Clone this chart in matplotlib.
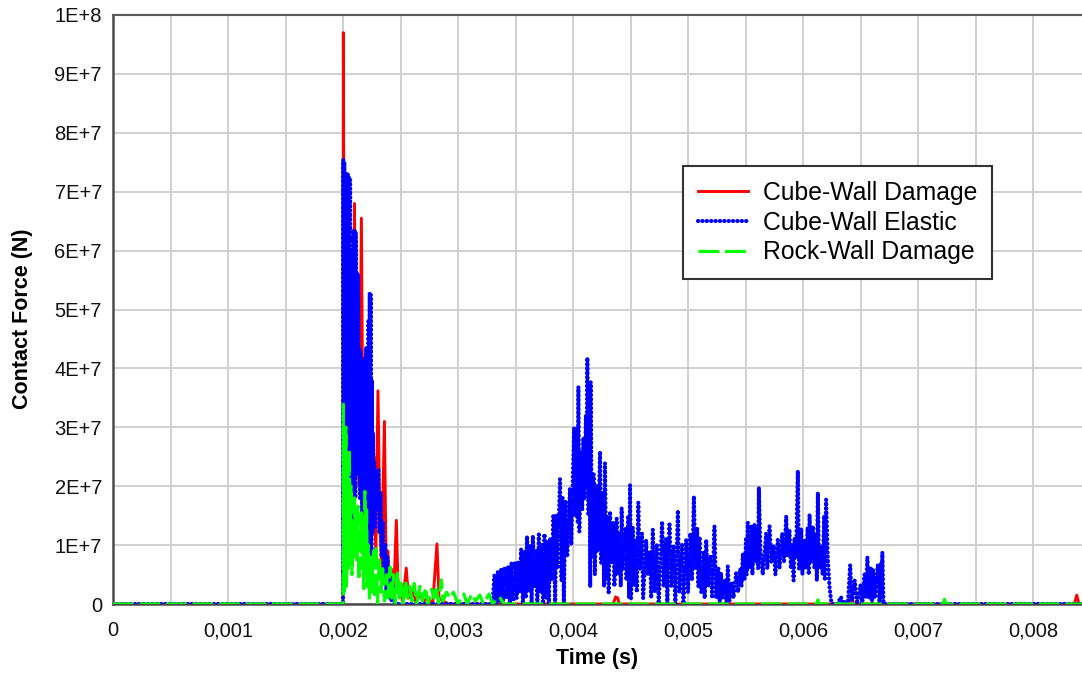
import numpy as np
import matplotlib
matplotlib.use("Agg")
import matplotlib.pyplot as plt
from matplotlib.ticker import MultipleLocator

plt.rcParams['font.family'] = ['Liberation Sans', 'DejaVu Sans']

# tempo em ms, forca em unidades de 1E+7 N
red_ms = [0, 2.0, 2.003, 2.012, 2.02, 2.03, 2.04, 2.05, 2.06, 2.07, 2.08, 2.09, 2.10, 2.115,
          2.13, 2.14, 2.16, 2.175, 2.19, 2.20, 2.215, 2.23, 2.25, 2.27, 2.285, 2.304, 2.32,
          2.335, 2.36, 2.375, 2.39, 2.405, 2.42, 2.44, 2.464, 2.48, 2.50, 2.52, 2.55, 2.57,
          2.60, 2.63, 2.66, 2.70, 2.74, 2.78, 2.817, 2.835, 2.87, 2.92, 3.78, 3.79, 3.80,
          4.35, 4.37, 4.39, 4.40, 6.40, 6.42, 6.44, 8.36, 8.38, 8.40, 8.43]
red_f = [0, 0, 9.7, 3.0, 5.5, 2.0, 5.8, 1.5, 4.5, 2.5, 5.0, 1.8, 6.8, 2.5,
         4.5, 2.0, 6.55, 2.1, 2.2, 3.0, 1.0, 2.8, 1.2, 2.5, 0.8, 3.62, 1.5,
         0.5, 3.1, 0.6, 0.9, 0.2, 0.6, 0.1, 1.42, 0.2, 0.3, 0.05, 0.61, 0.1,
         0.25, 0.05, 0.15, 0.05, 0.1, 0.0, 1.02, 0.1, 0.05, 0.0, 0.0, 0.08, 0,
         0, 0.12, 0.1, 0, 0, 0.15, 0, 0, 0.15, 0, 0]

blue_ms = [0, 2.0, 2.002, 2.007, 2.012, 2.017, 2.022, 2.027, 2.032, 2.037, 2.042, 2.047,
           2.052, 2.057, 2.062, 2.067, 2.072, 2.077, 2.082, 2.087, 2.092, 2.097, 2.102,
           2.107, 2.112, 2.117, 2.122, 2.127, 2.132, 2.137, 2.142, 2.147, 2.152, 2.157,
           2.162, 2.167, 2.172, 2.177, 2.182, 2.187, 2.192, 2.197, 2.202, 2.207, 2.212,
           2.217, 2.222, 2.227, 2.232, 2.237, 2.242, 2.247, 2.252, 2.257, 2.262, 2.267,
           2.272, 2.277, 2.287, 2.297, 2.307, 2.317, 2.327, 2.337, 2.347, 2.357, 2.367,
           2.377, 2.387, 2.397, 2.41, 2.42, 2.44, 2.45,
           3.30, 3.317, 3.33, 3.346, 3.36, 3.375, 3.39, 3.404, 3.42, 3.435, 3.45, 3.465,
           3.48, 3.495, 3.51, 3.525, 3.535, 3.549, 3.565, 3.58, 3.59, 3.60, 3.615, 3.63,
           3.64, 3.651, 3.665, 3.68, 3.69, 3.703, 3.715, 3.73, 3.74, 3.752, 3.765, 3.78,
           3.79, 3.80, 3.815, 3.83, 3.845, 3.855, 3.865, 3.887, 3.90, 3.91, 3.92, 3.935,
           3.95, 3.974, 3.985, 4.009, 4.02, 4.035, 4.04, 4.047, 4.055, 4.07, 4.08, 4.09,
           4.10, 4.112, 4.118, 4.125, 4.135, 4.145, 4.15, 4.154, 4.165, 4.18, 4.19, 4.205,
           4.215, 4.235, 4.245, 4.26, 4.27, 4.278, 4.29, 4.30, 4.31, 4.322, 4.335, 4.35,
           4.36, 4.38, 4.39, 4.41, 4.415, 4.423, 4.435, 4.455, 4.465, 4.48, 4.488, 4.496,
           4.505, 4.52, 4.53, 4.545, 4.555, 4.568, 4.58, 4.60, 4.61, 4.636, 4.65, 4.67,
           4.68, 4.694, 4.71, 4.73, 4.745, 4.775, 4.79, 4.81, 4.82, 4.839, 4.855, 4.875,
           4.89, 4.912, 4.925, 4.95, 4.96, 4.984, 5.00, 5.02, 5.035, 5.051, 5.065, 5.08,
           5.09, 5.10, 5.115, 5.135, 5.145, 5.158, 5.175, 5.195, 5.21, 5.23, 5.245, 5.265,
           5.275, 5.287, 5.30, 5.32, 5.335, 5.346, 5.36, 5.38, 5.395, 5.419, 5.435, 5.455,
           5.465, 5.477, 5.49, 5.505, 5.51, 5.52, 5.535, 5.55, 5.56, 5.578, 5.59, 5.605,
           5.61, 5.616, 5.63, 5.65, 5.68, 5.69, 5.709, 5.725, 5.745, 5.76, 5.781, 5.795,
           5.82, 5.835, 5.854, 5.865, 5.882, 5.895, 5.91, 5.918, 5.926, 5.94, 5.955, 5.965,
           5.984, 5.995, 6.013, 6.025, 6.04, 6.05, 6.057, 6.07, 6.086, 6.10, 6.115, 6.12,
           6.129, 6.14, 6.158, 6.17, 6.185, 6.19, 6.201, 6.215, 6.23, 6.245, 6.26, 6.30,
           6.33, 6.35, 6.37, 6.39, 6.41, 6.425, 6.45, 6.47, 6.50, 6.515, 6.535, 6.545,
           6.56, 6.575, 6.59, 6.60, 6.61, 6.625, 6.65, 6.665, 6.68, 6.685, 6.69, 6.70, 8.43]
blue_f = [0, 0, 7.55, 0.3, 7.5, 1.0, 7.3, 0.5, 7.3, 2.0, 7.3, 0.8,
          7.25, 3.0, 7.2, 1.5, 5.96, 2.5, 5.9, 1.2, 6.35, 2.8, 6.35,
          1.8, 6.3, 3.0, 5.62, 2.2, 5.6, 3.5, 4.36, 1.8, 4.3, 2.6,
          4.14, 1.5, 4.1, 2.2, 4.09, 1.6, 4.2, 2.0, 4.36, 1.2, 4.3,
          0.8, 4.8, 0.5, 5.28, 0.3, 5.25, 0.5, 3.8, 1.2, 2.9, 1.8,
          2.4, 1.3, 2.2, 1.6, 2.3, 1.2, 1.9, 0.8, 1.4, 0.4, 1.03,
          0.2, 0.8, 0.1, 0.5, 0.05, 0.3, 0.0,
          0.0, 0.49, 0.0, 0.55, 0.05, 0.58, 0.0, 0.60, 0.1, 0.63, 0.0, 0.70,
          0.05, 0.72, 0.1, 0.72, 0.2, 0.93, 0.0, 0.9, 0.1, 1.15, 0.2, 1.0,
          0.0, 1.16, 0.3, 0.9, 0.0, 1.18, 0.2, 1.0, 0.0, 1.19, 0.1, 1.05,
          0.0, 1.1, 0.4, 1.52, 0.0, 1.51, 0.6, 2.12, 0.4, 1.8, 0.0, 1.75,
          0.8, 1.97, 1.0, 2.99, 1.5, 3.0, 1.4, 3.69, 1.23, 2.6, 1.6, 2.82,
          1.8, 3.2, 2.0, 4.18, 1.5, 3.6, 0.29, 3.77, 0.8, 2.2, 0.5, 2.0,
          0.9, 2.59, 0.7, 1.9, 0.3, 2.39, 0.4, 1.5, 0.2, 1.57, 0.7, 1.4,
          0.3, 1.45, 0.5, 1.2, 0.3, 1.63, 0.6, 1.3, 0.4, 1.5, 0.1, 2.02,
          0.1, 1.3, 0.3, 1.1, 0.2, 1.72, 0.6, 1.2, 0.1, 1.09, 0.5, 0.9,
          0.1, 1.26, 0.2, 1.0, 0.0, 1.40, 0.3, 1.1, 0.0, 1.35, 0.3, 1.0,
          0.0, 1.59, 0.2, 1.0, 0.0, 1.09, 0.2, 1.2, 0.4, 1.83, 0.6, 1.3,
          0.3, 1.14, 0.2, 0.9, 0.1, 1.09, 0.3, 0.8, 0.1, 1.32, 0.1, 0.6,
          0.0, 0.52, 0.1, 0.4, 0.0, 0.64, 0.05, 0.35, 0.1, 0.52, 0.2, 0.6,
          0.3, 0.86, 0.4, 1.1, 0.5, 1.38, 0.6, 1.34, 0.5, 1.34, 0.7, 1.3,
          0.6, 1.98, 0.9, 0.5, 1.2, 0.6, 1.32, 0.7, 1.0, 0.5, 1.09, 0.6,
          1.2, 0.7, 1.49, 0.8, 1.26, 0.6, 1.0, 0.4, 1.12, 0.8, 2.26, 0.6,
          1.28, 0.5, 1.09, 0.6, 1.3, 0.5, 1.52, 0.7, 1.32, 0.6, 1.2, 0.4,
          1.89, 0.6, 0.98, 0.5, 1.5, 0.4, 1.77, 0.8, 0.3, 0.05, 0.0, 0.0,
          0.12, 0.0, 0.05, 0.0, 0.66, 0.05, 0.4, 0.0, 0.32, 0.0, 0.5, 0.1,
          0.80, 0.1, 0.6, 0.0, 0.58, 0.1, 0.66, 0.0, 0.7, 0.1, 0.88, 0.0, 0.0]

green_ms = [0, 2.0, 2.003, 2.008, 2.013, 2.018, 2.025, 2.03, 2.04, 2.046, 2.055, 2.062,
            2.07, 2.078, 2.085, 2.09, 2.10, 2.108, 2.115, 2.12, 2.13, 2.138, 2.145, 2.152,
            2.16, 2.168, 2.175, 2.18, 2.19, 2.198, 2.205, 2.212, 2.22, 2.23, 2.24, 2.25,
            2.265, 2.275, 2.29, 2.30, 2.315, 2.33, 2.345, 2.36, 2.38, 2.39, 2.41, 2.425,
            2.44, 2.455, 2.475, 2.49, 2.505, 2.52, 2.545, 2.56, 2.58, 2.60, 2.62, 2.64,
            2.67, 2.69, 2.72, 2.74, 2.77, 2.79, 2.81, 2.83, 2.855, 2.87, 2.90, 2.93,
            2.96, 3.0, 3.05, 3.08, 3.12, 3.15, 3.19, 3.22, 3.27, 3.30, 3.36, 3.40,
            6.12, 6.13, 6.14, 7.22, 7.23, 7.24, 8.43]
green_f = [0, 0, 3.39, 0.2, 2.8, 0.5, 3.0, 0.3, 2.2, 0.6, 2.61, 1.0,
           2.0, 0.5, 1.4, 0.8, 1.8, 0.9, 1.54, 0.7, 1.66, 0.4, 1.3, 0.9,
           1.55, 0.6, 1.2, 0.2, 1.91, 0.5, 1.6, 0.3, 1.0, 0.1, 0.8, 0.2,
           0.9, 0.1, 1.0, 0.0, 0.8, 0.2, 0.6, 0.05, 0.5, 0.1, 0.63, 0.1,
           0.5, 0.0, 0.52, 0.1, 0.35, 0.0, 0.4, 0.1, 0.3, 0.05, 0.35, 0.0,
           0.3, 0.05, 0.28, 0.0, 0.25, 0.1, 0.3, 0.0, 0.41, 0.05, 0.2, 0.1,
           0.2, 0.0, 0.17, 0.0, 0.17, 0.05, 0.15, 0.0, 0.17, 0.0, 0.12, 0.0,
           0.0, 0.07, 0.0, 0.0, 0.08, 0.0, 0.0]

x_ticks = [0, 0.001, 0.002, 0.003, 0.004, 0.005, 0.006, 0.007, 0.008]
x_labels = ['0', '0,001', '0,002', '0,003', '0,004', '0,005', '0,006', '0,007', '0,008']
y_ticks = [0, 1e7, 2e7, 3e7, 4e7, 5e7, 6e7, 7e7, 8e7, 9e7, 1e8]
y_labels = ['0', '1E+7', '2E+7', '3E+7', '4E+7', '5E+7', '6E+7', '7E+7', '8E+7', '9E+7', '1E+8']

fig = plt.figure(figsize=(10.82, 6.73), dpi=100)
ax = fig.add_axes([113/1082, 69/673, 969/1082, 589/673])

# curvas
ax.plot(np.array(red_ms)*1e-3, np.array(red_f)*1e7, color='#ff0000', lw=2.1,
        label='Cube-Wall Damage', zorder=3)
ax.plot(np.array(blue_ms)*1e-3, np.array(blue_f)*1e7, color='#0000ff', lw=3.0,
        linestyle=(0, (0.05, 1.0)), dash_capstyle='round',
        label='Cube-Wall Elastic', zorder=4)
ax.plot(np.array(green_ms)*1e-3, np.array(green_f)*1e7, color='#00ff00', lw=2.3,
        linestyle=(0, (6.5, 1.8)), label='Rock-Wall Damage', zorder=5)

ax.set_xlim(0, 969/115*1e-3)
ax.set_ylim(0, 1e8)
ax.set_xticks(x_ticks)
ax.set_xticklabels(x_labels)
ax.set_yticks(y_ticks)
ax.set_yticklabels(y_labels)
ax.xaxis.set_minor_locator(MultipleLocator(0.0005))

ax.grid(which='major', color='#d0d0d0', lw=1.4, zorder=0)
ax.grid(which='minor', axis='x', color='#d0d0d0', lw=1.4, zorder=0)
ax.set_axisbelow(True)

ax.tick_params(which='both', length=0, labelsize=14.5, colors='#111111')
ax.tick_params(axis='x', pad=12.5)
ax.tick_params(axis='y', pad=8)

for s in ['left', 'bottom']:
    ax.spines[s].set_color('#4a4a4a')
    ax.spines[s].set_linewidth(1.8)
ax.spines['top'].set_color('#5a5a5a')
ax.spines['top'].set_linewidth(1.5)
ax.spines['right'].set_visible(False)

ax.set_xlabel('Time (s)', fontsize=15.5, fontweight='bold')
ax.set_ylabel('Contact Force (N)', fontsize=15.5, fontweight='bold')
ax.xaxis.set_label_coords(0.5, -0.075)
ax.yaxis.set_label_coords(-0.083, 0.484)

leg = ax.legend(loc='upper left', bbox_to_anchor=(0.588, 0.744), borderaxespad=0,
                fontsize=17.8, fancybox=False, framealpha=1, edgecolor='#333333',
                handlelength=2.05, handletextpad=0.6, borderpad=0.6, labelspacing=0.24)
leg.get_frame().set_linewidth(1.5)

fig.savefig('out.png', dpi=100)
